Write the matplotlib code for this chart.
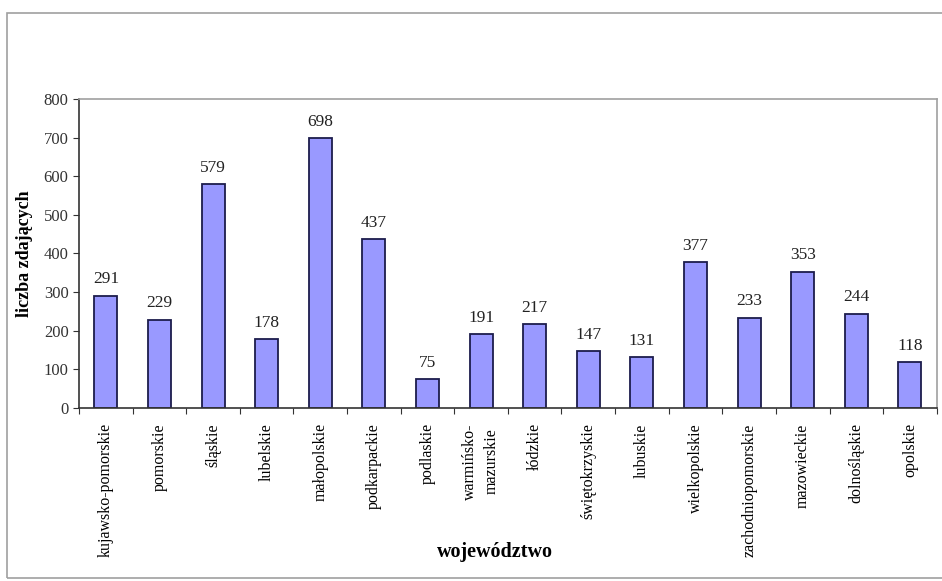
import matplotlib.pyplot as plt
from matplotlib.patches import Rectangle

wojewodztwa = ["kujawsko-pomorskie", "pomorskie", "śląskie", "lubelskie",
               "małopolskie", "podkarpackie", "podlaskie", "warmińsko-\nmazurskie",
               "łódzkie", "świętokrzyskie", "lubuskie", "wielkopolskie",
               "zachodniopomorskie", "mazowieckie", "dolnośląskie", "opolskie"]
zdajacy = [291, 229, 579, 178, 698, 437, 75, 191, 217, 147, 131, 377, 233, 353, 244, 118]
y_ticks = [0, 100, 200, 300, 400, 500, 600, 700, 800]

plt.rcParams['font.family'] = ['Liberation Serif', 'DejaVu Serif']

fig = plt.figure(figsize=(9.42, 5.81), dpi=100)
# ramka wokół całego wykresu
fig.patches.append(Rectangle((0.007, 0.005), 1.2, 0.973, transform=fig.transFigure,
                             fill=False, edgecolor='#a0a0a0', linewidth=1.2))

ax = fig.add_axes([0.0839, 0.2978, 0.9105, 0.5318])
x = range(len(wojewodztwa))
bars = ax.bar(x, zdajacy, width=0.43, color='#9999ff', edgecolor='#1c1c4c', linewidth=1.3)
for i, v in enumerate(zdajacy):
    ax.text(i, v + 22, str(v), ha='center', va='bottom', fontsize=12.5, color='#222222')

ax.set_xlim(-0.5, len(wojewodztwa) - 0.5)
ax.set_ylim(0, 800)
ax.set_yticks(y_ticks)
ax.tick_params(axis='y', labelsize=12, length=4, direction='out', colors='#333333')
ax.set_xticks([i + 0.5 for i in range(-1, len(wojewodztwa))], minor=False)
ax.set_xticklabels([])
ax.set_xticks(list(x), minor=True)
ax.set_xticklabels(wojewodztwa, minor=True, rotation=90, fontsize=11.5, va='top',
                   ha='center', linespacing=1.45)
ax.tick_params(axis='x', which='major', length=4, direction='out', colors='#333333')
ax.tick_params(axis='x', which='minor', length=0, pad=11)

ax.spines['left'].set_color('#333333')
ax.spines['bottom'].set_color('#333333')
ax.spines['top'].set_color('#a0a0a0')
ax.spines['right'].set_color('#a0a0a0')
for s in ax.spines.values():
    s.set_linewidth(1.2)

ax.set_ylabel('liczba zdających', fontsize=13, fontweight='bold', labelpad=8)
fig.text(0.525, 0.05, 'województwo', ha='center', va='center', fontsize=14.5,
         fontweight='bold')

fig.savefig('out.png', dpi=100)
